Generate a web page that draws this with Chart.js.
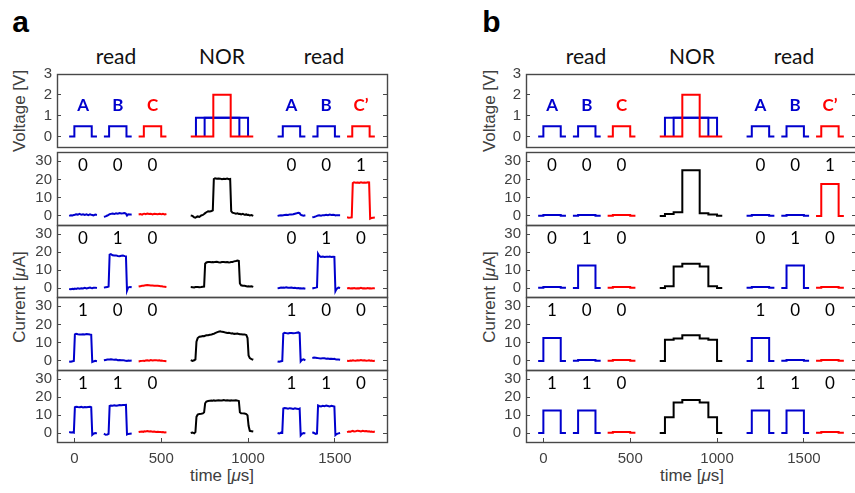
<!DOCTYPE html>
<html>
<head>
<meta charset="utf-8">
<script src="https://cdn.jsdelivr.net/npm/chart.js@4.4.1/dist/chart.umd.min.js"></script>
<style>
  html, body { margin: 0; padding: 0; background: #fff; width: 855px; height: 493px; overflow: hidden; }
  body { position: relative; }
  .txt { position: absolute; white-space: nowrap; transform: translate(-50%, -50%); line-height: 1; }
  .head { font-family: Lato, sans-serif; font-size: 21px; color: #111; }
  .letter { font-family: "Liberation Sans", Arial, sans-serif; font-weight: bold; font-size: 30px; color: #000; }
  .ytitle { font-family: "Liberation Sans", Arial, sans-serif; font-size: 17px; color: #404040; transform: translate(-50%, -50%) rotate(-90deg); }
  .xtitle { font-family: "Liberation Sans", Arial, sans-serif; font-size: 17px; color: #404040; }
</style>
</head>
<body>
<div class="txt letter" style="left:20.5px;top:21.5px">a</div>
<div class="txt letter" style="left:491.5px;top:21.5px">b</div>

<div class="txt head" style="left:116px;top:54.5px">read</div>
<div class="txt head" style="left:222px;top:54.5px">NOR</div>
<div class="txt head" style="left:324px;top:54.5px">read</div>
<div class="txt head" style="left:586px;top:54.5px">read</div>
<div class="txt head" style="left:692px;top:54.5px">NOR</div>
<div class="txt head" style="left:794px;top:54.5px">read</div>

<div class="txt ytitle" style="left:19px;top:110.5px">Voltage [V]</div>
<div class="txt ytitle" style="left:19px;top:297px">Current [<i>μ</i>A]</div>
<div class="txt ytitle" style="left:489px;top:110.5px">Voltage [V]</div>
<div class="txt ytitle" style="left:489px;top:297px">Current [<i>μ</i>A]</div>

<div class="txt xtitle" style="left:222px;top:475px">time [<i>μ</i>s]</div>
<div class="txt xtitle" style="left:692px;top:475px">time [<i>μ</i>s]</div>

<script>
// axes
const xMin = -100, xMax = 1800;
const xTicks = [0, 500, 1000, 1500];
const vTicks = [0, 1, 2, 3];
const iTicks = [0, 10, 20, 30];
const vRange = [-0.5, 3];
const iRange = [-5, 35];

// read pulses (A, B, C, A, B, C')
const readStart = [0, 200, 400, 1200, 1400, 1600];
const readNames = ['A', 'B', 'C', 'A', 'B', 'C\u2019'];
const labelT = [50, 250, 450, 1250, 1450, 1650];
const rowBits = [
  ['0', '0', '0', '0', '0', '1'],
  ['0', '1', '0', '0', '1', '0'],
  ['1', '0', '0', '1', '0', '0'],
  ['1', '1', '0', '1', '1', '0']
];

// voltage waveforms
const vReadT = [-30, 0, 0, 100, 100, 130];
const vReadV = [0, 0, 0.5, 0.5, 0, 0];
const vNorAT = [700, 700, 1000, 1000];
const vNorAV = [0, 0.9, 0.9, 0];
const vNorBT = [750, 750, 950, 950];
const vNorBV = [0, 0.9, 0.9, 0];
const vNorCT = [670, 800, 800, 900, 900, 1030];
const vNorCV = [0, 0, 2, 2, 0, 0];

// panel a: measured currents, read windows sampled at these local times
const aReadT = [-30, -20, -10, -3, 3, 10, 20, 30, 40, 50, 60, 70, 80, 90, 97, 103, 110, 120, 130];
const aRead1 = [
  [0, 0.3, 0.2, 0.5, 0.6, 0.9, 0.7, 1.1, 0.6, 0.9, 0.5, 0.8, 0.4, 0.8, 0.6, 0.5, 0.3, 0.7, 0.5],
  [-0.5, -0.3, 0.2, 0.6, 0.9, 1.1, 1.3, 1.0, 1.4, 1.2, 1.5, 1.3, 1.4, 1.6, 1.2, 0.2, 0.9, 0.7, 0.8],
  [0.8, 1.0, 0.7, 1.1, 1.2, 0.9, 1.3, 1.0, 1.2, 0.8, 1.1, 1.0, 0.9, 1.2, 1.0, 0.9, 1.1, 0.8, 1.0],
  [0, 0.2, 0.3, 0.2, 0.4, 0.5, 0.6, 0.5, 0.8, 0.7, 0.9, 1.2, 1.4, 1.7, 1.5, 0.6, 0.3, 0.1, 0.3],
  [-0.8, -0.6, -0.3, 0, 0.2, 0.3, 0.1, 0.4, 0.3, 0.6, 0.4, 0.7, 0.5, 0.6, 0.5, 0.2, 0.4, 0.3, 0.3],
  [-0.8, -1.0, -0.9, -0.8, 18.0, 18.4, 18.2, 18.3, 18.1, 18.4, 18.2, 18.3, 18.2, 18.4, 18.3, -1.5, -1.2, -1.0, -0.9]
];
const aRead2 = [
  [-0.5, -0.7, -0.4, -0.6, -0.3, -0.5, -0.2, -0.4, -0.1, -0.3, 0.1, -0.2, 0, 0.2, 0, -0.1, 0.1, 0.2, 0],
  [0.2, 0.4, 0.5, 0.8, 18.5, 18.8, 18.2, 18.0, 18.1, 17.8, 17.6, 17.9, 18.0, 17.7, 17.6, -1.5, 0.3, 0.6, 0.4],
  [0.8, 1.0, 1.2, 1.3, 1.4, 1.5, 1.6, 1.5, 1.4, 1.4, 1.3, 1.2, 1.2, 1.1, 1.0, 1.0, 0.8, 0.7, 0.6],
  [-0.2, 0, 0.2, 0.1, 0.3, 0.2, 0.4, 0.2, 0.1, 0.3, 0, 0.1, -0.1, 0, -0.2, -0.1, -0.3, -0.2, -0.4],
  [-0.3, 0, 0.2, 0.4, 19.0, 17.8, 17.3, 17.5, 17.2, 17.4, 17.3, 17.5, 17.2, 17.4, 17.3, -1.8, -0.5, 0.2, 0],
  [-0.2, 0, -0.3, -0.1, -0.2, 0, -0.3, -0.1, -0.2, 0.1, -0.2, -0.1, -0.3, 0, -0.2, -0.1, -0.3, -0.2, -0.1]
];
const aRead3 = [
  [-0.3, -0.5, -0.2, 0, 14.5, 14.8, 14.6, 14.5, 14.4, 14.6, 14.5, 14.7, 14.6, 14.4, 14.3, -0.6, -0.3, 0, -0.2],
  [0.3, 0.5, 0.7, 0.8, 0.8, 0.9, 0.7, 0.6, 0.7, 0.4, 0.5, 0.3, 0.4, 0.2, 0.1, 0, 0.2, 0.1, 0.2],
  [-0.3, -0.1, 0, 0.1, 0, 0.2, 0.3, 0.1, 0.4, 0.2, 0.3, 0.4, 0.2, 0.3, 0.1, 0.2, 0, -0.1, -0.2],
  [-0.3, -0.5, -0.2, 0, 15.0, 15.4, 15.2, 15.0, 15.3, 15.3, 15.1, 15.2, 15.4, 15.6, 15.2, -0.3, 0.5, 0.8, 0.3],
  [1.6, 1.8, 1.7, 1.6, 1.5, 1.4, 1.3, 1.5, 1.4, 1.2, 1.3, 1.1, 1.2, 1.0, 1.1, 0.9, 0.8, 0.7, 0.6],
  [0.1, 0, 0.2, 0.1, 0.3, 0.2, 0.1, 0.3, 0.2, 0.4, 0.2, 0.3, 0.1, 0.2, 0.3, 0.1, 0.2, 0, 0.1]
];
const aRead4 = [
  [0.5, 0.3, 0.4, 0.2, 14.3, 14.6, 14.4, 14.3, 14.5, 14.2, 14.4, 14.3, 14.5, 14.6, 14.3, -1.0, -0.4, 0, -0.2],
  [-0.4, -1.0, -0.8, -0.5, 15.0, 15.3, 15.2, 15.4, 15.1, 15.3, 15.5, 15.4, 15.6, 15.5, 15.6, -0.8, -0.5, -0.4, -0.3],
  [0.5, 0.7, 0.8, 0.6, 1.0, 0.9, 1.1, 0.8, 0.9, 0.7, 0.8, 0.6, 0.7, 0.5, 0.6, 0.4, 0.5, 0.3, 0.4],
  [0, -0.3, 0.2, 0.1, 13.6, 13.9, 13.7, 13.5, 13.8, 13.6, 13.4, 13.7, 13.5, 13.3, 13.6, -1.3, -0.5, 0, -0.2],
  [0.4, 0, -0.5, -0.3, 15.3, 15.0, 14.8, 15.1, 14.9, 15.2, 15.0, 14.8, 15.1, 14.9, 14.7, -1.2, -0.6, -0.2, 0],
  [0.5, 0.8, 0.7, 1.0, 1.2, 0.9, 1.0, 1.3, 1.1, 0.9, 1.2, 1.0, 1.1, 0.8, 0.9, 0.7, 0.8, 0.6, 0.8]
];

// panel a: measured NOR currents
const aNorT = [670, 680, 690, 697, 703, 710, 720, 730, 740, 747, 753, 760, 770, 780, 790, 797, 803, 810, 820, 830,
  840, 850, 860, 870, 880, 890, 897, 903, 910, 920, 930, 940, 947, 953, 960, 970, 980, 990, 997, 1003, 1010, 1020, 1030];
const aNor1 = [0.2, 0, -0.8, -1.0, -0.6, -0.3, -0.6, 0.2, 0.5, 1.0, 1.5, 2.0, 2.5, 2.4, 2.7, 3.0, 20.2, 20.6, 20.3, 20.5,
  20.4, 20.1, 20.3, 20.2, 20.4, 20.1, 20.2, 2.6, 1.8, 1.5, 1.2, 1.4, 1.0, 1.1, 0.8, 1.1, 0.6, 0.8, 0.5, 0.6, 0.2, 0.4, 0];
const aNor2 = [0.5, 0.4, 0.3, 0.5, 0.6, 0.6, 0.4, 0.5, 0.7, 0.8, 13.5, 14.2, 14.4, 14.5, 14.3, 14.4, 14.3, 14.5, 14.6, 14.3,
  14.2, 14.4, 14.5, 14.3, 14.4, 14.2, 14.3, 14.4, 14.5, 14.8, 15.0, 15.3, 15.0, 2.5, 1.5, 1.3, 1.2, 1.0, 0.8, 0.9, 0.8, 0.9, 0.6];
const aNor3 = [0.4, 0, 0.3, 0.8, 10.5, 12.5, 13.2, 13.4, 13.6, 13.5, 13.8, 14.0, 14.1, 14.3, 14.5, 14.7, 14.8, 15.2, 15.6, 16.0,
  16.2, 15.9, 15.8, 15.5, 15.3, 15.4, 15.2, 15.0, 15.1, 14.8, 14.9, 15.0, 14.7, 14.6, 14.6, 14.4, 14.5, 14.2, 12.5, 3.0, 1.5, 1.0, 0.6];
const aNor4 = [0, 0.3, -0.2, 0.5, 9.0, 10.2, 10.6, 10.7, 10.9, 11.5, 16.5, 17.5, 17.8, 17.9, 18.0, 17.9, 18.1, 17.9, 18.1, 18.2,
  18.0, 18.1, 18.3, 18.1, 18.2, 18.1, 18.0, 18.2, 18.0, 18.1, 18.2, 18.0, 17.8, 11.5, 11.0, 10.9, 10.8, 10.5, 9.8, 4.0, 1.2, 1.0, 0.8];

// panel b: simulated currents (step shapes)
const bReadT = [-30, 0, 0, 100, 100, 130];
const bLow = [0.1, 0.1, 0.5, 0.5, 0.1, 0.1];
const bHigh = [0, 0, 12.5, 12.5, 0, 0];
const bHighC = [0, 0, 17.5, 17.5, 0, 0];
const bRead1 = [bLow, bLow, bLow, bLow, bLow, bHighC];
const bRead2 = [bLow, bHigh, bLow, bLow, bHigh, bLow];
const bRead3 = [bHigh, bLow, bLow, bHigh, bLow, bLow];
const bRead4 = [bHigh, bHigh, bLow, bHigh, bHigh, bLow];
const bNorT = [670, 700, 700, 750, 750, 800, 800, 900, 900, 950, 950, 1000, 1000, 1030];
const bNor1 = [0, 0, 1, 1, 2, 2, 25, 25, 1.5, 1.5, 0.8, 0.8, 0.1, 0.1];
const bNor2 = [0, 0, 1, 1, 12, 12, 13.5, 13.5, 12, 12, 1, 1, 0, 0];
const bNor3 = [0, 0, 11.6, 11.6, 12.2, 12.2, 14, 14, 12.2, 12.2, 11.6, 11.6, 0, 0];
const bNor4 = [0, 0, 8.7, 8.7, 17, 17, 18.3, 18.3, 17, 17, 8.7, 8.7, 0, 0];

const BLUE = '#0000cd', RED = '#ff0000', BLACK = '#000000';
const readColor = [BLUE, BLUE, RED, BLUE, BLUE, RED];

// layout
const FRAME_W = 330, AXIS_W = 45, PAD_T = 10, PAD_B = 2, PAD_R = 4, X_H = 30;
const rowTop = [74, 152, 225, 297, 370];
const rowBottom = [147, 225, 297, 370, 442];

function pts(ts, vs, shift) {
  return ts.map((t, i) => ({ x: t + shift, y: vs[i] }));
}
function line(data, color) {
  return { data, borderColor: color, borderWidth: 2, pointRadius: 0, fill: false, tension: 0, yAxisID: 'y' };
}

const framePlugin = {
  id: 'frame',
  beforeDatasetsDraw(chart) {
    const a = chart.chartArea, ctx = chart.ctx;
    ctx.save();
    ctx.strokeStyle = '#484848';
    ctx.lineWidth = 1.4;
    ctx.strokeRect(Math.round(a.left) + 0.5, Math.round(a.top) + 0.5,
      Math.round(a.right - a.left), Math.round(a.bottom - a.top));
    ctx.restore();
  }
};

function textPlugin(items, font) {
  return {
    id: 'pulseText',
    afterDatasetsDraw(chart) {
      const { ctx, scales } = chart;
      ctx.save();
      ctx.font = font;
      ctx.textAlign = 'center';
      ctx.textBaseline = 'middle';
      items.forEach(it => {
        ctx.fillStyle = it.color;
        ctx.fillText(it.text, scales.x.getPixelForValue(it.t), scales.y.getPixelForValue(it.y));
      });
      ctx.restore();
    }
  };
}

// keep tick labels from pushing the plot area around
function noPad(s) {
  s.paddingTop = 0; s.paddingBottom = 0; s.paddingLeft = 0; s.paddingRight = 0;
}

function scales(range, ticks, showX) {
  const tickFont = { family: "'Liberation Sans', Arial, sans-serif", size: 15 };
  const grid = { drawOnChartArea: false, drawTicks: true, tickLength: -4, color: '#484848', lineWidth: 1 };
  return {
    x: {
      type: 'linear', min: xMin, max: xMax, display: showX,
      afterBuildTicks: s => { s.ticks = xTicks.map(v => ({ value: v })); },
      afterFit: s => { s.height = showX ? X_H : 0; noPad(s); },
      ticks: { font: tickFont, color: '#404040', padding: 12, maxRotation: 0, autoSkip: false, callback: v => String(v) },
      grid, border: { display: false }
    },
    y: {
      type: 'linear', min: range[0], max: range[1], position: 'left',
      afterBuildTicks: s => { s.ticks = ticks.map(v => ({ value: v })); },
      afterFit: s => { s.width = AXIS_W; noPad(s); },
      ticks: { font: tickFont, color: '#404040', padding: 9, autoSkip: false, callback: v => String(v) },
      grid, border: { display: false }
    },
    yR: {
      type: 'linear', min: range[0], max: range[1], position: 'right',
      afterBuildTicks: s => { s.ticks = ticks.map(v => ({ value: v })); },
      afterFit: s => { s.width = 0; noPad(s); },
      ticks: { callback: () => '', autoSkip: false },
      grid, border: { display: false }
    }
  };
}

function makeChart(frameLeft, row, datasets, range, ticks, items, font) {
  const showX = row === 4;
  const w = AXIS_W + FRAME_W + PAD_R;
  const h = PAD_T + (rowBottom[row] - rowTop[row]) + PAD_B + (showX ? X_H : 0);
  const canvas = document.createElement('canvas');
  canvas.width = w;
  canvas.height = h;
  canvas.style.cssText = 'position:absolute;left:' + (frameLeft - AXIS_W) + 'px;top:' + (rowTop[row] - PAD_T) +
    'px;width:' + w + 'px;height:' + h + 'px';
  document.body.appendChild(canvas);
  new Chart(canvas, {
    type: 'line',
    data: { datasets },
    options: {
      responsive: false, animation: false, events: [], devicePixelRatio: 1,
      layout: { padding: { left: 0, top: PAD_T, right: PAD_R, bottom: PAD_B } },
      plugins: { legend: { display: false }, tooltip: { enabled: false } },
      scales: scales(range, ticks, showX)
    },
    plugins: [framePlugin, textPlugin(items, font)]
  });
}

function voltageSets() {
  const sets = [line(pts(vNorCT, vNorCV, 0), RED), line(pts(vNorAT, vNorAV, 0), BLUE), line(pts(vNorBT, vNorBV, 0), BLUE)];
  readStart.forEach((s, i) => sets.push(line(pts(vReadT, vReadV, s), readColor[i])));
  return sets;
}

function currentSets(readT, reads, norT, nor) {
  const sets = [line(pts(norT, nor, 0), BLACK)];
  readStart.forEach((s, i) => sets.push(line(pts(readT, reads[i], s), readColor[i])));
  return sets;
}

function drawPanel(frameLeft, readT, readRows, norT, norRows) {
  const vItems = readNames.map((n, i) => ({ t: labelT[i], y: 1.5, text: n, color: readColor[i] }));
  makeChart(frameLeft, 0, voltageSets(), vRange, vTicks, vItems, 'bold 17px Lato, sans-serif');
  for (let r = 0; r < 4; r++) {
    const items = rowBits[r].map((b, i) => ({ t: labelT[i], y: 27.5, text: b, color: '#000' }));
    makeChart(frameLeft, r + 1, currentSets(readT, readRows[r], norT, norRows[r]), iRange, iTicks, items, '17px Lato, sans-serif');
  }
}

drawPanel(57, aReadT, [aRead1, aRead2, aRead3, aRead4], aNorT, [aNor1, aNor2, aNor3, aNor4]);
drawPanel(526, bReadT, [bRead1, bRead2, bRead3, bRead4], bNorT, [bNor1, bNor2, bNor3, bNor4]);
</script>
</body>
</html>
